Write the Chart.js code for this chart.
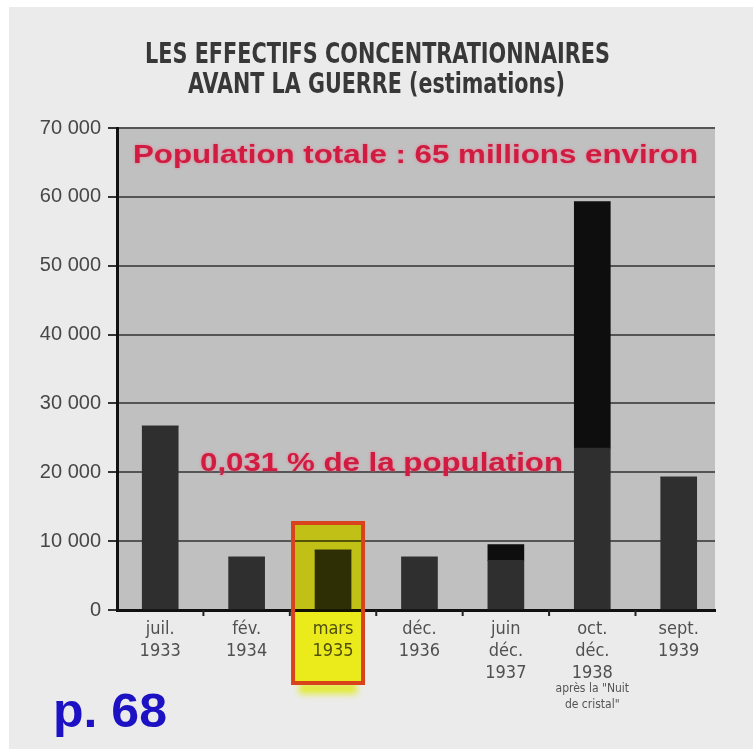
<!DOCTYPE html>
<html>
<head>
<meta charset="utf-8">
<script src="https://cdn.jsdelivr.net/npm/chart.js@4.4.1/dist/chart.umd.min.js"></script>
<style>
  html, body { margin: 0; padding: 0; background: #fff; }
  canvas { display: block; }
</style>
</head>
<body>
<canvas id="camps" width="753" height="749"></canvas>
<script>
// --- data ---
const periodLabels = [
    ["juil.", "1933"],
    ["fév.", "1934"],
    ["mars", "1935"],
    ["déc.", "1936"],
    ["juin", "déc.", "1937"],
    ["oct.", "déc.", "1938"],
    ["sept.", "1939"],
];
const periodNote = ['après la "Nuit', 'de cristal"']; // small print under oct.-déc. 1938
const internees = [26700, 7700, 8700, 7700, 7200, 23500, 19300];
const interneesPeak = [0, 0, 0, 0, 2300, 35800, 0]; // black top part of the bar
const yTicks = [0, 10000, 20000, 30000, 40000, 50000, 60000, 70000];
const titleLines = ["LES EFFECTIFS CONCENTRATIONNAIRES", "AVANT LA GUERRE (estimations)"];
const notes = ["Population totale : 65 millions environ", "0,031 % de la population"];
const highlighted = 2;
const pageRef = "p. 68";

const NARROW = "'Liberation Sans Narrow', 'DejaVu Sans Condensed', 'Liberation Sans', sans-serif";
const SANS = "'Liberation Sans', Arial, sans-serif";

const formatThousands = (v) => String(v).replace(/\B(?=(\d{3})+(?!\d))/g, " ");

// draw a line of text squeezed to a given width
function drawFitted(ctx, text, left, width, baseline, font, color, glow) {
    ctx.save();
    ctx.font = font;
    const w = ctx.measureText(text).width;
    ctx.translate(left, baseline);
    ctx.scale(width / w, 1);
    ctx.fillStyle = color;
    ctx.textAlign = "left";
    ctx.textBaseline = "alphabetic";
    if (glow) {
        ctx.shadowColor = glow;
        ctx.shadowBlur = 3;
    }
    ctx.fillText(text, 0, 0);
    ctx.restore();
}

const scanPlugin = {
    id: "scan",
    beforeDraw(chart) {
        const { ctx, chartArea } = chart;
        ctx.save();
        ctx.fillStyle = "#ffffff";
        ctx.fillRect(0, 0, chart.width, chart.height);
        ctx.fillStyle = "#ebebeb";
        ctx.fillRect(9, 7, chart.width - 9, chart.height - 7);
        ctx.fillStyle = "#c0c0c0";
        ctx.fillRect(chartArea.left, chartArea.top, chartArea.right - chartArea.left, chartArea.bottom - chartArea.top);
        ctx.restore();
    },
    afterDraw(chart) {
        const { ctx, chartArea } = chart;
        const xs = chart.scales.x;

        // title
        drawFitted(ctx, titleLines[0], 145, 465, 63, "bold 29px " + NARROW, "#383838");
        drawFitted(ctx, titleLines[1], 188, 377, 93, "bold 29px " + NARROW, "#383838");

        // red notes
        drawFitted(ctx, notes[0], 133, 565, 163, "bold 26px " + SANS, "#cf1c40", "rgba(255,90,130,0.7)");
        drawFitted(ctx, notes[1], 200, 363, 471, "bold 26px " + SANS, "#cf1c40", "rgba(255,90,130,0.7)");

        // tick marks between the periods
        ctx.save();
        ctx.strokeStyle = "#222";
        ctx.lineWidth = 2;
        for (let i = 0; i < periodLabels.length - 1; i++) {
            const px = xs.getPixelForValue(i + 0.5);
            ctx.beginPath();
            ctx.moveTo(px, chartArea.bottom);
            ctx.lineTo(px, chartArea.bottom + 6);
            ctx.stroke();
        }
        ctx.restore();

        // small print under 1938
        ctx.save();
        ctx.font = "12px " + NARROW;
        ctx.fillStyle = "#555";
        ctx.textAlign = "center";
        const nx = xs.getPixelForValue(5);
        ctx.fillText(periodNote[0], nx, 692);
        ctx.fillText(periodNote[1], nx, 708);
        ctx.restore();

        // yellow highlight + red frame on mars 1935
        const cx = xs.getPixelForValue(highlighted);
        const left = cx - 40, right = cx + 30;
        const top = 523, bottom = chartArea.bottom + 73;
        ctx.save();
        ctx.globalCompositeOperation = "multiply";
        ctx.fillStyle = "rgb(255, 255, 30)";
        ctx.fillRect(left, top, right - left, bottom - top);
        ctx.filter = "blur(3px)";
        ctx.fillStyle = "rgb(245, 255, 60)";
        ctx.fillRect(left + 6, bottom, right - left - 12, 11);
        ctx.restore();
        ctx.save();
        ctx.strokeStyle = "#d8431c";
        ctx.lineWidth = 4;
        ctx.strokeRect(left, top, right - left, bottom - top);
        ctx.restore();

        // page reference
        drawFitted(ctx, pageRef, 53, 114, 727, "bold 48px " + SANS, "#1c12c4");
    },
};

const ctx = document.getElementById("camps").getContext("2d");
new Chart(ctx, {
    type: "bar",
    data: {
        datasets: [
            {
                label: "effectifs",
                data: internees.map((v, i) => ({ x: i, y: v })),
                backgroundColor: "#2f2f2f",
                barThickness: 36,
            },
            {
                label: "pointe",
                data: interneesPeak.map((v, i) => ({ x: i, y: v })),
                backgroundColor: "#0e0e0e",
                barThickness: 36,
            },
        ],
    },
    options: {
        responsive: false,
        devicePixelRatio: 1,
        animation: false,
        layout: {
            padding: { top: 128, right: 38, bottom: 39, left: 0 },
        },
        plugins: {
            legend: { display: false },
            tooltip: { enabled: false },
        },
        scales: {
            x: {
                type: "linear",
                stacked: true,
                min: -0.5,
                max: 6.42,
                offset: false,
                grid: { display: false, offset: false },
                border: { color: "#111", width: 3 },
                ticks: {
                    stepSize: 1,
                    includeBounds: false,
                    autoSkip: false,
                    maxRotation: 0,
                    padding: 0,
                    color: "#505050",
                    font: { family: NARROW, size: 18, lineHeight: 1.22 },
                    callback: (v) => periodLabels[v] || "",
                },
                afterFit: (s) => {
                    s.height = 100;
                    s.paddingLeft = 0;
                    s.paddingRight = 0;
                },
            },
            y: {
                stacked: true,
                min: 0,
                max: 70000,
                afterBuildTicks: (s) => {
                    s.ticks = yTicks.map((v) => ({ value: v }));
                },
                grid: { color: "#555", lineWidth: 2, tickLength: 9, tickColor: "#333" },
                border: { color: "#111", width: 3 },
                ticks: {
                    padding: 7,
                    color: "#474747",
                    font: { family: SANS, size: 20 },
                    callback: (v) => formatThousands(v),
                },
                afterFit: (s) => {
                    s.width = 117;
                    s.paddingTop = 0;
                    s.paddingBottom = 0;
                },
            },
        },
    },
    plugins: [scanPlugin],
});
</script>
</body>
</html>
